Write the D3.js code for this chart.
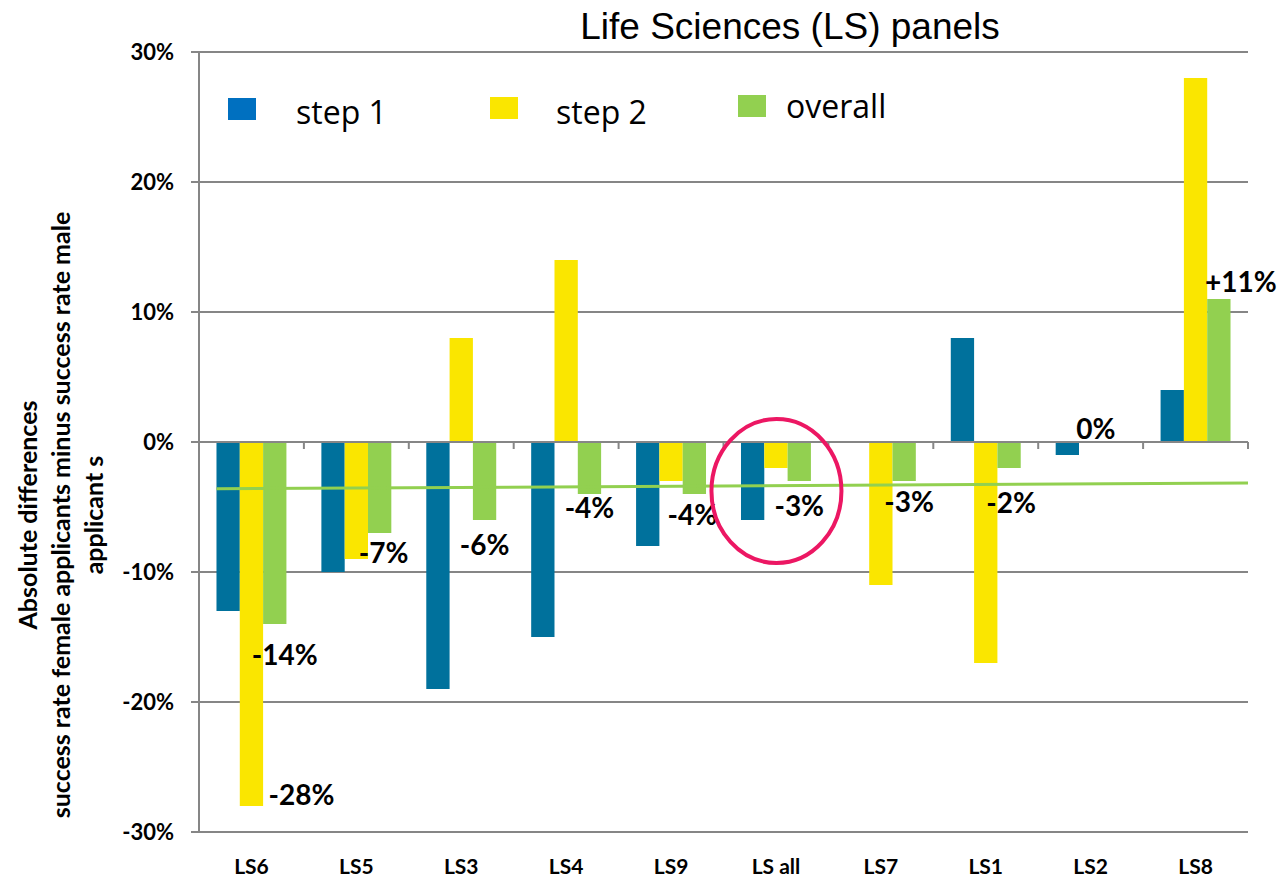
<!DOCTYPE html>
<html>
<head>
<meta charset="utf-8">
<script src="https://cdn.jsdelivr.net/npm/d3@7"></script>
<style>
  html, body { margin: 0; padding: 0; background: #fff; }
  svg { display: block; }
</style>
</head>
<body>
<svg id="chart" width="1288" height="877"></svg>
<script>
// ---- data ----
const categories = ["LS6", "LS5", "LS3", "LS4", "LS9", "LS all", "LS7", "LS1", "LS2", "LS8"];
const seriesNames = ["step 1", "step 2", "overall"];
const step1 = [-13, -10, -19, -15, -8, -6, 0, 8, -1, 4];
const step2 = [-28, -9, 8, 14, -3, -2, -11, -17, 0, 28];
const overall = [-14, -7, -6, -4, -4, -3, -3, -2, 0, 11];
const yTicks = [30, 20, 10, 0, -10, -20, -30];
const trendValues = [-3.6, -3.15]; // trend line at first bar start and plot end
const labelTexts = ["-14%", "-28%", "-7%", "-6%", "-4%", "-4%", "-3%", "-3%", "-2%", "0%", "+11%"];
const labelCats = ["LS6", "LS6", "LS5", "LS3", "LS4", "LS9", "LS all", "LS7", "LS1", "LS2", "LS8"];
const labelSeries = ["overall", "step 2", "overall", "overall", "overall", "overall", "overall", "overall", "overall", "overall", "overall"];
const titleText = "Life Sciences (LS) panels";
const yTitleLines = ["Absolute differences", "success rate female applicants minus success rate male", "applicant s"];

// ---- layout ----
const colors = { "step 1": "#00719C", "step 2": "#FAE600", "overall": "#92D050" };
const legendColors = { "step 1": "#0070C0", "step 2": "#FAE600", "overall": "#92D050" };
const plot = { left: 199, right: 1248, top: 52, bottom: 832 };
const seriesData = { "step 1": step1, "step 2": step2, "overall": overall };
const boldFont = "Lato, 'Open Sans', sans-serif";

const svg = d3.select("#chart");
const x = d3.scaleBand().domain(categories).range([plot.left, plot.right]).paddingInner(0).paddingOuter(0);
const xs = d3.scaleBand().domain(seriesNames).range([0, x.bandwidth()]).paddingInner(0).paddingOuter(0.75);
const y = d3.scaleLinear().domain([-30, 30]).range([plot.bottom, plot.top]);

const gridColor = "#868686";

// gridlines
svg.append("g").selectAll("line").data(yTicks).join("line")
  .attr("x1", plot.left - 8).attr("x2", plot.right)
  .attr("y1", d => y(d)).attr("y2", d => y(d))
  .attr("stroke", gridColor).attr("stroke-width", 2);

// y axis line
svg.append("line")
  .attr("x1", plot.left).attr("x2", plot.left)
  .attr("y1", plot.top).attr("y2", plot.bottom)
  .attr("stroke", gridColor).attr("stroke-width", 2);

// y tick labels
svg.append("g").selectAll("text").data(yTicks).join("text")
  .attr("x", 174).attr("y", d => y(d))
  .attr("dy", "0.36em")
  .attr("text-anchor", "end")
  .attr("font-family", boldFont)
  .attr("font-weight", "bold").attr("font-size", 22)
  .attr("fill", "#000")
  .text(d => d + "%");

// bars
const groups = svg.append("g").selectAll("g").data(categories).join("g")
  .attr("transform", d => `translate(${x(d)},0)`);
groups.selectAll("rect").data((c, i) => seriesNames.map(s => ({ s, v: seriesData[s][i] })))
  .join("rect")
  .attr("x", d => xs(d.s))
  .attr("width", xs.bandwidth())
  .attr("y", d => y(Math.max(0, d.v)))
  .attr("height", d => Math.abs(y(d.v) - y(0)))
  .attr("fill", d => colors[d.s]);

// zero line (x axis) with tick marks at category boundaries
svg.append("line")
  .attr("x1", plot.left).attr("x2", plot.right)
  .attr("y1", y(0)).attr("y2", y(0))
  .attr("stroke", gridColor).attr("stroke-width", 2);
const boundaries = categories.map(c => x(c)).concat([plot.right]);
svg.append("g").selectAll("line").data(boundaries).join("line")
  .attr("x1", d => d).attr("x2", d => d)
  .attr("y1", y(0)).attr("y2", y(0) + 7)
  .attr("stroke", gridColor).attr("stroke-width", 2);

// trend line
const trendX = [x(categories[0]) + xs(seriesNames[0]), plot.right];
svg.append("line")
  .attr("x1", trendX[0]).attr("x2", trendX[1])
  .attr("y1", y(trendValues[0])).attr("y2", y(trendValues[1]))
  .attr("stroke", "#92D050").attr("stroke-width", 3);

// x category labels
svg.append("g").selectAll("text").data(categories).join("text")
  .attr("x", d => x(d) + x.bandwidth() / 2)
  .attr("y", 874)
  .attr("text-anchor", "middle")
  .attr("font-family", boldFont)
  .attr("font-weight", "bold").attr("font-size", 21)
  .attr("fill", "#000")
  .text(d => d);

// data labels (manually placed in the original: offsets from their bar end)
const labelOffsets = [
  [10, 31], [50, -11], [4, 20], [0, 25], [0, 14], [-2, 21], [0, 25], [5, 21], [2, 35], [-18, -13], [22, -17]
];
svg.append("g").selectAll("text").data(labelTexts).join("text")
  .attr("x", (t, i) => x(labelCats[i]) + xs(labelSeries[i]) + xs.bandwidth() / 2 + labelOffsets[i][0])
  .attr("y", (t, i) => {
    const ci = categories.indexOf(labelCats[i]);
    return y(seriesData[labelSeries[i]][ci]) + labelOffsets[i][1];
  })
  .attr("dy", "0.36em")
  .attr("text-anchor", "middle")
  .attr("font-family", boldFont)
  .attr("font-weight", "bold").attr("font-size", 28)
  .attr("fill", "#000")
  .text(t => t);

// red ellipse highlighting "LS all"
svg.append("ellipse")
  .attr("cx", x("LS all") + x.bandwidth() / 2 + 0.5)
  .attr("cy", 491)
  .attr("rx", 65).attr("ry", 72)
  .attr("fill", "none")
  .attr("stroke", "#EC1763").attr("stroke-width", 4);

// title
svg.append("text")
  .attr("x", 790).attr("y", 39)
  .attr("text-anchor", "middle")
  .attr("font-family", "'Liberation Sans', Arial, sans-serif")
  .attr("font-size", 37)
  .attr("fill", "#000")
  .text(titleText);

// legend
const legendPos = [[228, 98, 296, 112], [490, 97, 556, 112], [738, 95, 786, 106]];
const lg = svg.append("g").selectAll("g").data(seriesNames).join("g");
lg.append("rect")
  .attr("x", (d, i) => legendPos[i][0]).attr("y", (d, i) => legendPos[i][1])
  .attr("width", 28).attr("height", 22)
  .attr("fill", d => legendColors[d]);
lg.append("text")
  .attr("x", (d, i) => legendPos[i][2]).attr("y", (d, i) => legendPos[i][3])
  .attr("dy", "0.36em")
  .attr("font-family", "'Open Sans', Lato, sans-serif")
  .attr("font-size", 32)
  .attr("fill", "#000")
  .text(d => d);

// y axis title
const yt = svg.append("text")
  .attr("transform", "translate(61,515) rotate(-90)")
  .attr("text-anchor", "middle")
  .attr("font-family", boldFont)
  .attr("font-weight", "bold").attr("font-size", 25)
  .attr("fill", "#000");
yt.selectAll("tspan").data(yTitleLines).join("tspan")
  .attr("x", 0)
  .attr("y", (d, i) => (i - 1) * 33)
  .attr("dy", "0.36em")
  .text(d => d);
</script>
</body>
</html>
